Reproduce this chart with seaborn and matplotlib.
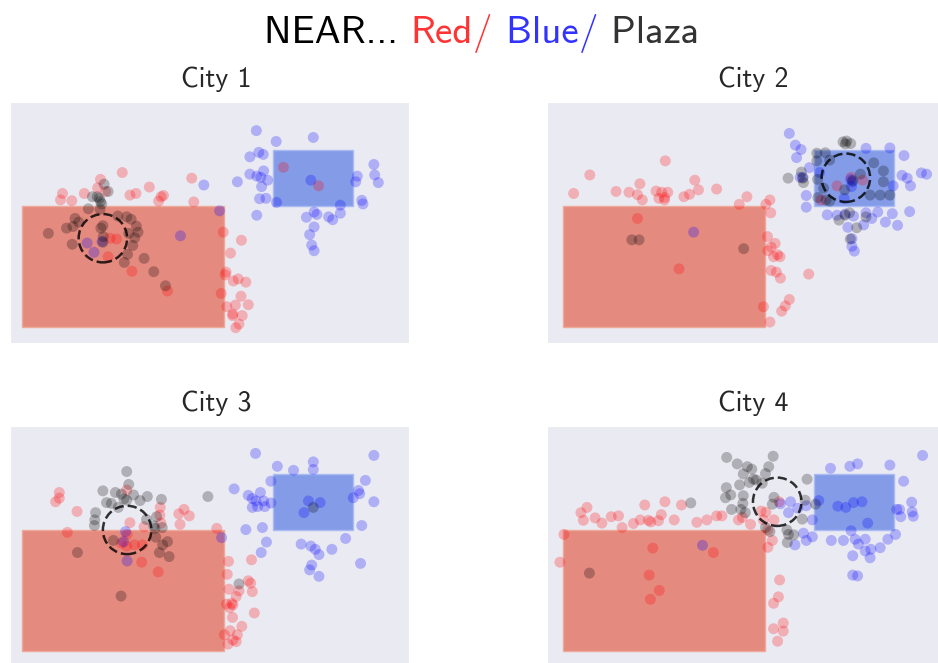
import pandas as pd
import matplotlib
matplotlib.use("Agg")
import matplotlib.pyplot as plt
from matplotlib.patches import Rectangle, Circle
from matplotlib.colors import to_rgba
import seaborn as sns

# =============================
# Data (city units, red zone corner at 0,0)
# =============================
CITIES = ["City 1", "City 2", "City 3", "City 4"]

RED_ZONE = (0.0, 0.0, 5.0, 3.0)     # x, y, width, height
BLUE_ZONE = (6.2, 3.0, 2.0, 1.4)
PLAZA_CENTERS = [(2.0, 2.2), (7.0, 3.7), (2.6, 3.0), (5.3, 3.7)]
PLAZA_RADIUS = 0.6

CITY1_RED = [(2.48, 3.83), (1.94, 3.66), (1.00, 3.31), (0.95, 3.15), (1.23, 3.13), (1.54, 3.31),
             (1.87, 3.45), (2.07, 3.36), (2.67, 3.27), (2.82, 3.31), (3.15, 3.47), (3.44, 3.23),
             (3.50, 3.26), (3.38, 3.12), (4.20, 3.69), (4.25, 3.10), (4.98, 2.35), (5.43, 2.15),
             (5.16, 1.83), (5.05, 1.36), (5.03, 1.29), (5.23, 1.14), (5.35, 1.19), (5.54, 1.11),
             (4.93, 0.83), (5.42, 0.76), (5.60, 0.55), (5.28, 0.54), (5.07, 0.50), (5.21, 0.28),
             (5.45, 0.28), (5.22, 0.32), (5.37, 0.07), (5.29, -0.02), (2.18, 2.20), (2.34, 2.18),
             (2.13, 1.74), (2.72, 1.38), (3.60, 0.89), (6.47, 3.96), (7.34, 3.50)]
CITY1_BLUE = [(5.80, 4.87), (7.21, 4.70), (6.29, 4.60), (5.86, 4.33), (5.97, 4.28), (5.64, 4.22),
              (8.71, 4.03), (8.73, 3.77), (8.82, 3.58), (8.30, 3.74), (8.26, 3.60), (5.64, 3.79),
              (5.81, 3.74), (5.91, 3.71), (5.98, 3.87), (6.08, 3.64), (5.33, 3.60), (5.93, 3.48),
              (4.50, 3.52), (5.88, 3.18), (6.04, 3.19), (6.30, 3.09), (7.15, 3.64), (8.41, 3.14),
              (8.44, 3.05), (7.88, 3.02), (7.88, 2.82), (7.23, 2.85), (7.30, 2.79), (7.04, 2.72),
              (7.59, 2.73), (7.69, 2.66), (7.23, 2.48), (7.12, 2.29), (7.17, 2.03), (7.23, 1.89),
              (5.81, 2.77), (4.89, 2.88), (3.92, 2.26), (1.61, 2.08), (1.78, 1.85), (1.98, 2.12)]
CITY1_PLAZA = [(0.65, 2.32), (1.10, 2.45), (1.26, 2.49), (1.31, 2.69), (1.40, 2.60), (1.24, 2.05),
               (1.64, 2.93), (1.93, 2.92), (1.91, 3.19), (1.86, 3.23), (1.74, 3.23), (2.03, 3.54),
               (2.13, 3.36), (1.94, 3.11), (2.00, 2.51), (1.95, 2.45), (2.01, 2.24), (2.00, 2.10),
               (2.37, 2.75), (2.59, 2.73), (2.70, 2.67), (2.83, 2.50), (2.87, 2.35), (2.79, 2.21),
               (2.74, 2.02), (2.61, 1.80), (2.53, 1.60), (3.02, 1.70), (3.26, 1.37), (3.55, 1.02),
               (2.64, 2.32), (1.97, 3.05)]

CITY2_RED = [(0.66, 3.77), (0.26, 3.31), (1.31, 3.36), (1.63, 3.34), (1.84, 3.28), (1.90, 3.55),
             (1.96, 3.15), (2.30, 3.37), (2.53, 4.12), (2.44, 3.34), (2.59, 3.34), (2.51, 3.21),
             (2.51, 3.15), (2.37, 3.19), (2.99, 3.23), (3.13, 3.29), (3.26, 3.64), (3.35, 3.40),
             (3.80, 3.42), (4.36, 3.04), (4.55, 3.23), (5.02, 3.04), (5.12, 3.15), (5.14, 2.83),
             (5.06, 2.24), (5.25, 2.07), (5.15, 1.98), (5.07, 1.89), (5.21, 1.74), (5.31, 1.79),
             (5.37, 1.74), (5.15, 1.40), (5.28, 1.36), (5.38, 1.21), (6.08, 1.31), (5.60, 0.68),
             (5.50, 0.52), (5.41, 0.39), (4.96, 0.50), (5.12, 0.12), (1.84, 2.69), (2.87, 1.44),
             (7.13, 3.71), (7.42, 3.64), (6.78, 3.50), (6.39, 3.15)]
CITY2_BLUE = [(5.60, 4.80), (5.75, 4.51), (5.89, 4.40), (5.78, 4.20), (6.10, 3.95), (5.87, 3.71),
              (5.94, 3.71), (6.02, 3.26), (6.02, 2.97), (6.54, 2.78), (6.78, 2.77), (6.98, 2.80),
              (7.19, 2.75), (7.50, 2.83), (7.79, 2.85), (7.64, 2.69), (7.44, 2.53), (7.05, 2.47),
              (7.15, 2.19), (7.15, 2.00), (7.21, 1.88), (7.98, 2.60), (8.15, 2.81), (8.28, 2.52),
              (8.58, 2.86), (8.60, 3.50), (8.52, 3.69), (8.39, 3.76), (8.87, 3.82), (9.00, 3.79),
              (8.44, 4.25), (8.09, 4.44), (7.50, 4.43), (8.17, 3.50), (6.35, 3.83), (7.14, 3.48),
              (6.96, 3.19), (3.23, 2.35), (7.16, 3.60), (7.12, 3.66)]
CITY2_PLAZA = [(5.57, 3.69), (5.90, 3.84), (5.93, 3.69), (5.95, 3.58), (6.93, 4.59), (6.99, 4.54),
               (7.12, 4.55), (7.02, 4.61), (6.28, 4.31), (6.49, 4.32), (6.28, 4.12), (6.60, 4.14),
               (6.30, 3.66), (6.45, 3.44), (6.31, 3.21), (6.51, 3.15), (6.60, 3.12), (6.97, 3.40),
               (7.36, 3.79), (7.69, 4.07), (7.93, 3.87), (7.93, 3.60), (7.60, 3.27), (7.85, 3.27),
               (8.09, 3.27), (7.09, 2.83), (6.98, 2.77), (6.83, 2.65), (7.50, 2.73), (7.27, 2.46),
               (7.11, 2.18), (1.70, 2.16), (1.88, 2.16), (4.47, 1.94), (7.17, 3.63)]

CITY3_RED = [(0.92, 3.93), (0.92, 3.79), (0.83, 3.70), (1.36, 3.46), (1.12, 2.94), (2.59, 3.99),
             (2.67, 3.18), (3.02, 3.08), (3.42, 3.56), (3.41, 3.37), (3.44, 3.17), (3.88, 3.40),
             (4.01, 3.51), (4.14, 3.35), (3.91, 3.14), (4.82, 3.04), (5.11, 2.22), (5.08, 1.90),
             (5.68, 2.26), (5.60, 1.74), (5.66, 1.68), (5.70, 1.47), (5.12, 1.53), (5.37, 1.49),
             (5.30, 1.35), (5.19, 1.18), (5.06, 1.16), (5.14, 1.07), (5.22, 1.14), (5.75, 0.94),
             (5.21, 0.83), (5.44, 0.61), (5.15, 0.50), (5.33, 0.40), (5.01, 0.40), (5.22, 0.27),
             (5.30, 0.23), (5.10, 0.17), (2.78, 2.63), (2.98, 2.63), (2.96, 2.20), (3.37, 1.96),
             (2.46, 2.67), (2.60, 2.89), (2.59, 2.60)]
CITY3_BLUE = [(5.78, 4.90), (8.71, 4.85), (6.32, 4.58), (6.72, 4.48), (7.21, 4.69), (7.21, 4.50),
              (6.16, 4.21), (5.25, 4.02), (5.60, 3.86), (5.70, 3.78), (5.79, 3.72), (5.90, 3.93),
              (5.98, 3.72), (5.70, 3.56), (5.83, 3.58), (6.01, 3.58), (6.16, 3.67), (5.54, 3.01),
              (5.95, 3.06), (6.05, 2.70), (5.92, 2.44), (4.94, 2.81), (8.50, 4.23), (8.33, 3.98),
              (8.36, 3.90), (8.20, 3.80), (8.71, 3.70), (8.41, 3.11), (8.01, 2.79), (7.67, 2.52),
              (6.91, 2.65), (7.15, 2.60), (7.26, 2.52), (7.35, 2.39), (7.17, 2.13), (7.12, 2.01),
              (7.35, 1.85), (8.38, 2.17), (7.09, 3.72), (7.38, 3.68), (6.98, 3.43), (2.56, 2.96),
              (2.51, 2.71), (2.60, 2.23)]
CITY3_PLAZA = [(2.59, 4.45), (2.64, 4.13), (2.00, 3.97), (2.31, 3.93), (2.46, 3.89), (2.52, 3.77),
               (2.59, 3.74), (2.76, 3.87), (2.09, 3.68), (2.21, 3.66), (2.38, 3.56), (2.92, 3.73),
               (3.10, 3.83), (3.45, 3.76), (1.82, 3.43), (1.80, 3.25), (1.79, 3.11), (3.08, 3.26),
               (3.33, 3.33), (3.26, 3.10), (3.29, 3.04), (3.47, 3.06), (3.31, 2.82), (3.60, 2.71),
               (3.48, 2.63), (3.40, 2.44), (3.64, 2.34), (2.26, 2.74), (1.37, 2.44), (2.45, 1.36),
               (4.60, 3.83), (5.37, 1.66), (7.21, 3.56)]

CITY4_RED = [(0.02, 2.89), (-0.08, 2.20), (0.44, 3.43), (0.50, 3.24), (0.59, 3.56), (0.79, 3.30),
             (0.96, 3.17), (1.19, 3.33), (1.37, 3.35), (1.46, 3.06), (1.74, 3.16), (1.91, 3.25),
             (2.02, 3.62), (2.11, 3.24), (2.17, 3.20), (2.36, 3.23), (2.43, 3.38), (2.52, 3.70),
             (2.75, 3.25), (2.93, 3.62), (3.31, 3.19), (3.56, 3.25), (3.80, 3.35), (3.93, 3.35),
             (4.34, 3.25), (4.44, 3.31), (4.64, 3.14), (4.90, 3.47), (5.02, 3.44), (4.96, 3.25),
             (5.22, 3.25), (5.07, 3.00), (5.18, 2.74), (5.07, 2.57), (5.36, 1.76), (5.33, 1.34),
             (5.21, 1.18), (5.45, 0.69), (5.21, 0.55), (5.45, 0.49), (5.31, 0.24), (2.22, 2.55),
             (3.72, 2.44), (2.13, 1.88), (2.38, 1.50), (2.16, 1.28), (5.35, 3.70)]
CITY4_BLUE = [(8.90, 4.85), (6.62, 4.53), (7.10, 4.58), (7.29, 4.64), (8.09, 4.61), (8.43, 4.21),
              (6.33, 3.73), (6.80, 3.59), (7.00, 3.56), (7.19, 3.68), (7.40, 3.70), (7.54, 3.17),
              (8.26, 3.51), (8.33, 3.51), (8.36, 3.33), (8.63, 3.69), (8.64, 3.45), (8.67, 3.34),
              (5.63, 3.70), (5.81, 3.54), (5.58, 3.43), (6.02, 3.60), (6.17, 3.25), (5.95, 2.92),
              (6.17, 2.83), (6.02, 2.74), (5.74, 2.63), (6.64, 2.74), (6.94, 2.74), (7.13, 2.98),
              (7.23, 2.77), (7.48, 2.77), (7.31, 2.65), (7.48, 2.48), (7.62, 2.52), (7.85, 2.56),
              (8.04, 2.77), (8.23, 2.89), (7.17, 2.36), (7.60, 2.31), (7.17, 1.88), (7.29, 1.86),
              (3.45, 2.62), (5.38, 3.65)]
CITY4_PLAZA = [(4.05, 4.80), (4.31, 4.64), (4.56, 4.57), (4.67, 4.51), (5.20, 4.83), (5.09, 4.57),
               (5.01, 4.40), (4.46, 4.39), (4.71, 4.26), (4.78, 4.24), (4.61, 4.18), (4.93, 4.16),
               (4.37, 4.12), (4.04, 4.05), (4.15, 3.87), (4.02, 3.80), (4.46, 3.85), (4.45, 3.66),
               (4.17, 3.51), (4.40, 3.51), (4.51, 3.43), (3.16, 3.67), (6.04, 4.26), (5.22, 3.81),
               (5.18, 3.64), (5.99, 3.74), (6.25, 3.64), (5.92, 3.27), (5.01, 3.06), (5.12, 2.96),
               (5.54, 3.00), (5.58, 2.89), (5.71, 2.88), (5.55, 2.69), (0.65, 1.93)]

POINTS = {
    "City 1": {"red": CITY1_RED, "blue": CITY1_BLUE, "plaza": CITY1_PLAZA},
    "City 2": {"red": CITY2_RED, "blue": CITY2_BLUE, "plaza": CITY2_PLAZA},
    "City 3": {"red": CITY3_RED, "blue": CITY3_BLUE, "plaza": CITY3_PLAZA},
    "City 4": {"red": CITY4_RED, "blue": CITY4_BLUE, "plaza": CITY4_PLAZA},
}

rows = []
for city, groups in POINTS.items():
    for group, pts in groups.items():
        for x, y in pts:
            rows.append({"city": city, "group": group, "x": x, "y": y})
df = pd.DataFrame(rows)

# =============================
# Style
# =============================
sns.set_style("dark")
plt.rcParams["font.family"] = ["cmss10", "DejaVu Sans"]
plt.rcParams["axes.unicode_minus"] = False

PALETTE = {"red": "red", "blue": "blue", "plaza": "black"}
RED_FILL = "#E24A33"
BLUE_FILL = "royalblue"

W, H = 938, 663
fig = plt.figure(figsize=(W / 100, H / 100), dpi=100)

# axes boxes in pixels: left, top
BOXES = [(10, 102), (547, 102), (10, 426), (547, 426)]
AX_W, AX_H = 399, 241
XLIMS = [(-0.30, 9.58), (-0.40, 9.48), (-0.30, 9.58), (-0.40, 9.48)]

for i, city in enumerate(CITIES):
    left, top = BOXES[i]
    ax = fig.add_axes([left / W, 1 - (top + AX_H) / H, AX_W / W, AX_H / H])

    rx, ry, rw, rh = RED_ZONE
    ax.add_patch(Rectangle((rx, ry), rw, rh, facecolor=to_rgba(RED_FILL, 0.6),
                           edgecolor="#EFA99B", linewidth=1.0, zorder=1))
    bx, by, bw, bh = BLUE_ZONE
    ax.add_patch(Rectangle((bx, by), bw, bh, facecolor=to_rgba(BLUE_FILL, 0.6),
                           edgecolor="#A9BBF2", linewidth=1.0, zorder=1))

    sns.scatterplot(
        data=df[df["city"] == city], x="x", y="y", hue="group",
        palette=PALETTE, s=62, alpha=0.25, linewidth=0,
        legend=False, ax=ax, zorder=2,
    )

    ax.add_patch(Circle(PLAZA_CENTERS[i], PLAZA_RADIUS, fill=False, color="black",
                        linestyle="--", linewidth=1.8, alpha=0.8, zorder=3))

    ax.set_xlim(*XLIMS[i])
    ax.set_ylim(-0.40, 5.58)
    ax.set_xticks([])
    ax.set_yticks([])
    ax.set_xlabel("")
    ax.set_ylabel("")
    ax.set_title(city, fontsize=20, pad=11, x=0.516, color="#262626")

# =============================
# Coloured super title
# =============================
pieces = [("NEAR... ", "black"), ("Red", (1, 0, 0, 0.8)), ("/", (1, 0, 0, 0.8)),
          (" Blue", (0, 0, 1, 0.8)), ("/", (0, 0, 1, 0.8)), (" Plaza", (0, 0, 0, 0.8))]
renderer = fig.canvas.get_renderer()
texts = []
widths = []
for s, c in pieces:
    t = fig.text(0, 1 - 42.7 / H, s, color=c, fontsize=28, va="baseline", ha="left")
    texts.append(t)
    widths.append(t.get_window_extent(renderer).width)
x0 = 481.5 - sum(widths) / 2
for t, w in zip(texts, widths):
    t.set_x(x0 / W)
    x0 += w

fig.savefig("out.png", dpi=100)
